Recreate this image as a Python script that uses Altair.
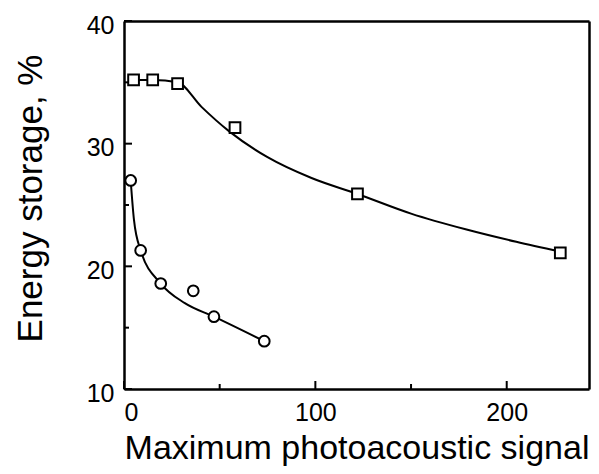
import altair as alt
import pandas as pd

sq_x = [5, 15, 28, 58, 122, 228]
sq_y = [35.2, 35.2, 34.9, 31.3, 25.9, 21.1]
ci_x = [3.5, 8.7, 19.2, 36.2, 47, 73.3]
ci_y = [27.0, 21.3, 18.6, 18.0, 15.9, 13.9]

# Fitted curves
sq_curve_x = [5, 15, 28, 40.5, 55, 75, 98, 122, 150, 179, 205, 228]
sq_curve_y = [35.2, 35.2, 35.0, 33.0, 31.0, 28.9, 27.2, 25.9, 24.3, 23.0, 22.0, 21.2]
ci_curve_x = [3.5, 5.2, 8.7, 19.2, 31.8, 47, 73.3]
ci_curve_y = [27.0, 23.8, 21.3, 18.6, 17.0, 15.9, 13.9]

# Axis tick values
x_major = [0, 100, 200]
x_minor = [50, 150]
y_major = [10, 20, 30, 40]
y_minor = [15, 25, 35]

W, H = 465, 368
FONT = "Liberation Sans"

xs = alt.Scale(domain=[0, 243], nice=False, zero=False)
ys = alt.Scale(domain=[10, 40], nice=False, zero=False)

frame = dict(ticks=False, labels=False, title=None, grid=False, domain=True,
             domainColor="black", domainWidth=2.5)

xaxis = alt.Axis(values=x_major, ticks=False, domain=True, domainColor="black", domainWidth=2.5,
                 grid=False,
                 labelFontSize=25, labelPadding=11, labelFont=FONT, labelColor="black",
                 title="Maximum photoacoustic signal", titleFontSize=34, titleFont=FONT,
                 titleFontWeight="normal", titleColor="black",
                 titleBaseline="alphabetic", titleY=69)
yaxis = alt.Axis(values=y_major, ticks=False, domain=True, domainColor="black", domainWidth=2.5,
                 grid=False,
                 labelFontSize=25, labelPadding=10, labelOffset=4, labelFont=FONT, labelColor="black",
                 title="Energy storage, %", titleFontSize=35, titleFont=FONT,
                 titleFontWeight="normal", titleColor="black",
                 titleAngle=270, titleBaseline="alphabetic", titleX=-83, titleY=177)

sq_df = pd.DataFrame({"x": sq_x, "y": sq_y})
ci_df = pd.DataFrame({"x": ci_x, "y": ci_y})
sqc_df = pd.DataFrame({"x": sq_curve_x, "y": sq_curve_y})
cic_df = pd.DataFrame({"x": ci_curve_x, "y": ci_curve_y})

base_line = alt.Chart(sqc_df).mark_line(color="black", strokeWidth=2, interpolate="monotone").encode(
    x=alt.X("x:Q", scale=xs, axis=xaxis),
    y=alt.Y("y:Q", scale=ys, axis=yaxis),
)
ci_line = alt.Chart(cic_df).mark_line(color="black", strokeWidth=2, interpolate="monotone").encode(
    x=alt.X("x:Q", scale=xs, axis=alt.Axis(orient="top", **frame)),
    y=alt.Y("y:Q", scale=ys, axis=alt.Axis(orient="right", **frame)),
)
sq_pts = alt.Chart(sq_df).mark_point(shape="square", size=115, filled=False, fill="white",
                                      fillOpacity=1, stroke="black", strokeWidth=2, opacity=1).encode(
    x=alt.X("x:Q", scale=xs, axis=None),
    y=alt.Y("y:Q", scale=ys, axis=None),
)
ci_pts = alt.Chart(ci_df).mark_point(shape="circle", size=115, filled=False, fill="white",
                                      fillOpacity=1, stroke="black", strokeWidth=2, opacity=1).encode(
    x=alt.X("x:Q", scale=xs, axis=None),
    y=alt.Y("y:Q", scale=ys, axis=None),
)

def xticks(vals, length):
    return alt.Chart(pd.DataFrame({"t": vals})).mark_rule(color="black", strokeWidth=2).encode(
        x=alt.X("t:Q", scale=xs, axis=None), y=alt.value(H), y2=alt.value(H - length))

def yticks(vals, length):
    return alt.Chart(pd.DataFrame({"t": vals})).mark_rule(color="black", strokeWidth=2).encode(
        y=alt.Y("t:Q", scale=ys, axis=None), x=alt.value(0), x2=alt.value(length))

chart = alt.layer(
    base_line, ci_line,
    xticks(x_major, 8), xticks(x_minor, 5),
    yticks(y_major, 8), yticks(y_minor, 5),
    sq_pts, ci_pts,
).resolve_axis(
    x="independent", y="independent"
).properties(
    width=W, height=H,
    autosize=alt.AutoSizeParams(type="none"),
    padding={"left": 116, "top": 13, "right": 2, "bottom": 77},
).configure_view(
    stroke=None, fill="white"
).configure(background="white")

chart.save("out.html", embed_options={"renderer": "svg", "actions": False})
